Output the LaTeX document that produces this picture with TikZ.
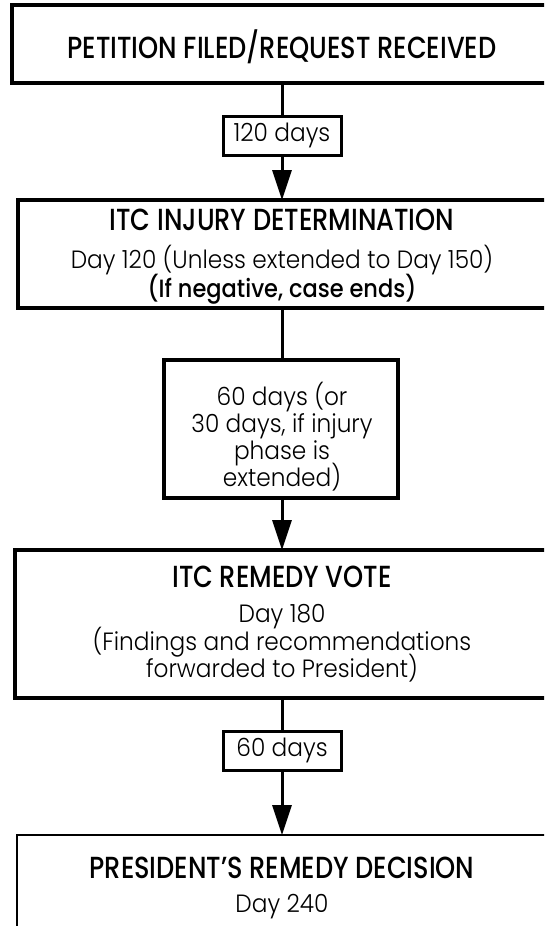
\documentclass[tikz,border=0pt]{standalone}
\usepackage{fontspec}
\usetikzlibrary{arrows.meta}
\newfontfamily\titlefont{Poppins Medium}[FakeStretch=0.84]
\newfontfamily\bodyfont{Poppins Light}[FakeStretch=0.93]
\newfontfamily\midfont{Poppins Medium}[FakeStretch=0.90]
\begin{document}
\begin{tikzpicture}[x=1pt,y=-1pt,
  bigbox/.style={draw,line width=3.5pt,anchor=north west,inner sep=0pt,outer sep=0pt,minimum width=600pt},
  daybox/.style={draw,line width=3pt,inner sep=0pt,outer sep=0pt,minimum width=118pt,minimum height=39pt,font=\bodyfont\fontsize{25}{27}\selectfont},
  conn/.style={line width=3pt},
  arr/.style={line width=3pt,-{Triangle[length=30pt,width=19pt]}},
  ttl/.style={anchor=base,inner sep=0pt,font=\titlefont\fontsize{30.5}{32}\selectfont},
  txt/.style={anchor=base,inner sep=0pt,font=\bodyfont\fontsize{25}{27}\selectfont},
  txtb/.style={anchor=base,inner sep=0pt,font=\midfont\fontsize{25}{27}\selectfont},
]
\useasboundingbox (0,0) rectangle (544,926);
\clip (0,0) rectangle (544,926);
% boxes
\node[bigbox,minimum height=78pt] (b1) at (12,5) {};
\node[bigbox,minimum height=108pt] (b2) at (18,200) {};
\node[bigbox,minimum width=234pt,minimum height=138pt] (b3) at (164,360) {};
\node[bigbox,minimum height=148pt] (b4) at (15,550) {};
\node[bigbox,line width=2.5pt,minimum height=150pt] (b5) at (17,835) {};
\node[daybox] (l1) at (282,135.5) {120 days};
\node[daybox] (l2) at (282,750.5) {60 days};
% texts
\node[ttl] (t1) at (282,58) {PETITION FILED/REQUEST RECEIVED};
\node[ttl] (t2a) at (282,230) {ITC INJURY DETERMINATION};
\node[txt] (t2b) at (282,268) {Day 120 (Unless extended to Day 150)};
\node[txtb] (t2c) at (282,297) {(If negative, case ends)};
\node[txt] (t3a) at (282,405) {60 days (or};
\node[txt] (t3b) at (282,432) {30 days, if injury};
\node[txt] (t3c) at (282,459) {phase is};
\node[txt] (t3d) at (282,486) {extended)};
\node[ttl] (t4a) at (282,587) {ITC REMEDY VOTE};
\node[txt] (t4b) at (282,622) {Day 180};
\node[txt] (t4c) at (282,650) {(Findings and recommendations};
\node[txt] (t4d) at (282,677) {forwarded to President)};
\node[ttl] (t5a) at (282,878) {PRESIDENT’S REMEDY DECISION};
\node[txt] (t5b) at (282,912) {Day 240};
% connectors
\draw[conn] (l1.north |- b1.south) -- (l1.north);
\draw[arr] (l1.south) -- (l1.south |- b2.north);
\draw[conn] (l1.north |- b2.south) -- (l1.north |- b3.north);
\draw[arr] (l1.south |- b3.south) -- (l1.south |- b4.north);
\draw[conn] (l2.north |- b4.south) -- (l2.north);
\draw[arr] (l2.south) -- (l2.south |- b5.north);
\end{tikzpicture}
\end{document}
